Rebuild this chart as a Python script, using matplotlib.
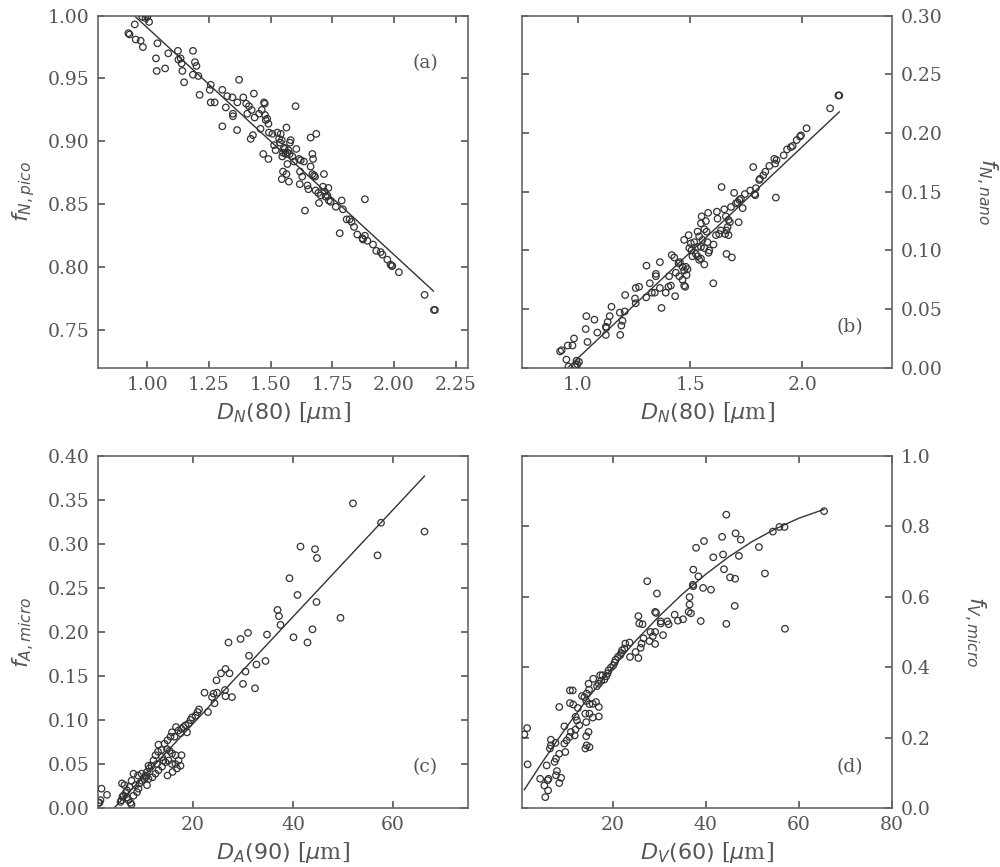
import numpy as np
import matplotlib
matplotlib.use("Agg")
import matplotlib.pyplot as plt
from matplotlib.ticker import MultipleLocator, FormatStrFormatter

plt.rcParams.update({
    "font.family": "DejaVu Serif",
    "mathtext.fontset": "dejavusans",
    "font.size": 13.5,
    "axes.labelsize": 16,
    "text.color": "#555555",
    "axes.labelcolor": "#555555",
    "xtick.color": "#555555",
    "ytick.color": "#555555",
    "axes.edgecolor": "#666666",
    "axes.linewidth": 1.2,
})

# (a) f_N,pico vs D_N(80)
a_x = [0.980, 0.993, 1.000, 1.007, 0.949, 0.923, 0.928, 0.953, 0.973, 0.982, 1.041, 1.035,
       1.038, 1.072, 1.085, 1.124, 1.126, 1.135, 1.139, 1.142, 1.149, 1.185, 1.193, 1.199,
       1.185, 1.207, 1.212, 1.257, 1.253, 1.257, 1.273, 1.304, 1.318, 1.324, 1.345, 1.347,
       1.347, 1.304, 1.364, 1.372, 1.365, 1.389, 1.401, 1.405, 1.412, 1.423, 1.432, 1.435,
       1.419, 1.428, 1.453, 1.459, 1.464, 1.473, 1.476, 1.477, 1.480, 1.486, 1.491, 1.493,
       1.470, 1.491, 1.507, 1.514, 1.520, 1.527, 1.534, 1.538, 1.541, 1.545, 1.547, 1.550,
       1.554, 1.557, 1.561, 1.564, 1.568, 1.572, 1.577, 1.568, 1.564, 1.550, 1.545, 1.574,
       1.578, 1.581, 1.588, 1.595, 1.601, 1.604, 1.615, 1.619, 1.622, 1.628, 1.618, 1.639,
       1.635, 1.649, 1.653, 1.662, 1.662, 1.669, 1.672, 1.669, 1.676, 1.680, 1.685, 1.682,
       1.693, 1.696, 1.703, 1.712, 1.716, 1.720, 1.723, 1.730, 1.734, 1.736, 1.743, 1.764,
       1.780, 1.788, 1.793, 1.808, 1.820, 1.828, 1.838, 1.851, 1.872, 1.874, 1.882, 1.882,
       1.892, 1.915, 1.928, 1.946, 1.953, 1.973, 1.986, 1.991, 1.993, 2.020, 2.124, 2.162,
       2.166]
a_y = [0.999, 0.998, 0.999, 0.995, 0.993, 0.986, 0.985, 0.981, 0.980, 0.975, 0.978, 0.966,
       0.956, 0.958, 0.970, 0.972, 0.965, 0.966, 0.962, 0.956, 0.947, 0.972, 0.963, 0.960,
       0.953, 0.952, 0.937, 0.945, 0.941, 0.931, 0.931, 0.941, 0.927, 0.936, 0.935, 0.922,
       0.920, 0.912, 0.909, 0.949, 0.931, 0.935, 0.930, 0.922, 0.928, 0.925, 0.938, 0.919,
       0.902, 0.905, 0.922, 0.910, 0.925, 0.931, 0.930, 0.921, 0.917, 0.918, 0.914, 0.907,
       0.890, 0.886, 0.906, 0.897, 0.893, 0.907, 0.902, 0.899, 0.906, 0.901, 0.888, 0.891,
       0.895, 0.894, 0.890, 0.911, 0.891, 0.893, 0.890, 0.882, 0.874, 0.876, 0.870, 0.868,
       0.899, 0.901, 0.888, 0.884, 0.928, 0.894, 0.886, 0.876, 0.885, 0.872, 0.866, 0.845,
       0.884, 0.865, 0.862, 0.903, 0.880, 0.890, 0.886, 0.874, 0.873, 0.872, 0.906, 0.861,
       0.859, 0.851, 0.857, 0.864, 0.874, 0.860, 0.856, 0.857, 0.863, 0.853, 0.852, 0.848,
       0.827, 0.853, 0.846, 0.838, 0.838, 0.836, 0.832, 0.826, 0.823, 0.822, 0.854, 0.825,
       0.821, 0.818, 0.813, 0.812, 0.810, 0.806, 0.802, 0.801, 0.801, 0.796, 0.778, 0.766,
       0.766]
a_fit_x = [0.93, 2.16]
a_fit_y = [1.003, 0.781]

# (b) f_N,nano vs D_N(80)
b_x = [2.161, 2.165, 2.124, 2.019, 1.994, 1.990, 1.975, 1.957, 1.949, 1.932, 1.917, 1.885,
       1.879, 1.875, 1.853, 1.835, 1.826, 1.811, 1.808, 1.781, 1.882, 1.793, 1.790, 1.787,
       1.768, 1.744, 1.726, 1.719, 1.711, 1.704, 1.734, 1.696, 1.640, 1.682, 1.652, 1.659,
       1.671, 1.677, 1.667, 1.662, 1.656, 1.671, 1.716, 1.637, 1.629, 1.622, 1.619, 1.615,
       1.580, 1.551, 1.570, 1.548, 1.563, 1.573, 1.533, 1.540, 1.555, 1.577, 1.604, 1.585,
       1.582, 1.563, 1.548, 1.533, 1.518, 1.503, 1.496, 1.506, 1.510, 1.525, 1.533, 1.548,
       1.540, 1.563, 1.662, 1.686, 1.493, 1.473, 1.454, 1.418, 1.429, 1.448, 1.466, 1.481,
       1.488, 1.473, 1.484, 1.466, 1.473, 1.478, 1.451, 1.436, 1.406, 1.414, 1.403, 1.433,
       1.391, 1.365, 1.347, 1.347, 1.305, 1.320, 1.329, 1.342, 1.365, 1.372, 1.304, 1.257,
       1.272, 1.257, 1.254, 1.210, 1.208, 1.186, 1.149, 1.141, 1.132, 1.124, 1.126, 1.124,
       1.086, 1.073, 1.037, 1.034, 1.042, 1.188, 1.193, 1.198, 0.982, 0.975, 0.954, 0.927,
       0.920, 0.948, 0.993, 1.004, 0.997, 0.957, 0.990, 1.603]
b_y = [0.232, 0.232, 0.221, 0.204, 0.198, 0.197, 0.194, 0.189, 0.188, 0.186, 0.181, 0.177,
       0.174, 0.178, 0.172, 0.167, 0.164, 0.161, 0.160, 0.171, 0.145, 0.153, 0.147, 0.148,
       0.151, 0.148, 0.144, 0.143, 0.141, 0.140, 0.136, 0.149, 0.154, 0.137, 0.135, 0.129,
       0.126, 0.124, 0.120, 0.117, 0.114, 0.113, 0.124, 0.117, 0.114, 0.127, 0.133, 0.113,
       0.132, 0.129, 0.125, 0.123, 0.118, 0.116, 0.116, 0.112, 0.109, 0.107, 0.105, 0.100,
       0.098, 0.102, 0.103, 0.103, 0.107, 0.106, 0.102, 0.100, 0.095, 0.097, 0.095, 0.093,
       0.092, 0.088, 0.097, 0.094, 0.113, 0.109, 0.090, 0.096, 0.094, 0.089, 0.086, 0.086,
       0.084, 0.083, 0.079, 0.075, 0.070, 0.069, 0.078, 0.081, 0.078, 0.070, 0.069, 0.061,
       0.064, 0.090, 0.080, 0.078, 0.087, 0.072, 0.064, 0.064, 0.068, 0.051, 0.060, 0.068,
       0.069, 0.055, 0.059, 0.062, 0.048, 0.047, 0.052, 0.044, 0.039, 0.035, 0.034, 0.028,
       0.030, 0.041, 0.044, 0.033, 0.022, 0.028, 0.036, 0.040, 0.025, 0.019, 0.019, 0.015,
       0.014, 0.007, 0.006, 0.005, 0.003, 0.001, 0.001, 0.072]
b_fit_x = [0.92, 2.165]
b_fit_y = [-0.006, 0.218]

# (c) f_A,micro vs D_A(90)
c_x = [52.0, 57.6, 66.3, 56.9, 41.5, 44.4, 44.8, 39.3, 40.9, 44.7, 49.5, 36.9, 37.2, 37.5,
       40.1, 43.9, 42.9, 34.8, 31.0, 29.5, 27.1, 31.2, 30.5, 32.7, 34.5, 32.4, 30.0, 26.5,
       27.3, 25.6, 24.7, 26.4, 24.8, 24.1, 23.8, 22.3, 24.3, 26.5, 27.8, 23.0, 21.2, 20.9,
       20.5, 19.8, 19.5, 19.1, 18.5, 18.1, 17.7, 17.1, 16.6, 17.5, 18.8, 15.8, 16.3, 15.5,
       14.9, 14.3, 13.7, 13.1, 13.0, 12.5, 14.8, 15.3, 15.8, 16.5, 17.1, 16.8, 17.5, 17.7,
       15.9, 14.9, 14.5, 14.1, 13.8, 12.8, 12.1, 11.7, 11.3, 10.8, 10.5, 10.3, 9.8, 9.3,
       8.5, 8.1, 9.0, 9.7, 11.1, 10.8, 10.5, 9.1, 8.8, 8.1, 7.7, 7.3, 6.8, 6.5, 6.1, 5.8,
       6.3, 6.8, 7.1, 7.5, 7.7, 5.9, 5.7, 5.5, 1.1, 1.3, 1.7, 2.8, 1.5, 11.9, 12.5, 13.1,
       13.8, 15.1, 15.8, 16.5, 11.1]
c_y = [0.346, 0.324, 0.314, 0.287, 0.297, 0.294, 0.284, 0.261, 0.242, 0.234, 0.216, 0.225,
       0.218, 0.208, 0.194, 0.203, 0.188, 0.197, 0.199, 0.192, 0.188, 0.173, 0.155, 0.163,
       0.167, 0.136, 0.141, 0.158, 0.153, 0.153, 0.145, 0.134, 0.131, 0.130, 0.126, 0.131,
       0.119, 0.127, 0.126, 0.109, 0.112, 0.109, 0.105, 0.103, 0.100, 0.096, 0.094, 0.092,
       0.090, 0.088, 0.092, 0.085, 0.086, 0.086, 0.081, 0.081, 0.077, 0.073, 0.066, 0.072,
       0.064, 0.060, 0.067, 0.065, 0.062, 0.060, 0.054, 0.045, 0.048, 0.060, 0.041, 0.037,
       0.052, 0.054, 0.058, 0.050, 0.054, 0.048, 0.045, 0.041, 0.037, 0.033, 0.031, 0.028,
       0.026, 0.039, 0.037, 0.039, 0.033, 0.026, 0.035, 0.022, 0.018, 0.014, 0.031, 0.024,
       0.020, 0.017, 0.014, 0.028, 0.026, 0.012, 0.009, 0.006, 0.004, 0.013, 0.009, 0.007,
       0.006, 0.006, 0.022, 0.015, 0.009, 0.035, 0.039, 0.043, 0.047, 0.054, 0.050, 0.050,
       0.048]
c_fit_x = [1.1, 66.3]
c_fit_y = [-0.019, 0.377]

# (d) f_V,micro vs D_V(60)
d_x = [65.4, 44.4, 46.4, 47.5, 43.5, 54.4, 55.8, 56.9, 51.4, 47.1, 43.7, 41.6, 39.6, 37.9,
       37.3, 43.9, 38.4, 45.2, 46.3, 52.7, 37.2, 37.3, 39.4, 41.1, 27.4, 29.5, 36.5, 36.5,
       36.8, 36.3, 46.2, 38.9, 44.4, 57.0, 29.1, 29.3, 33.3, 35.1, 34.0, 31.7, 32.0, 30.3,
       30.3, 25.5, 25.7, 26.4, 30.8, 29.1, 28.1, 28.6, 27.9, 29.1, 26.6, 26.2, 26.0, 24.9,
       25.5, 23.6, 22.7, 23.7, 22.5, 22.0, 21.8, 21.6, 21.1, 20.6, 20.4, 20.1, 19.6, 19.1,
       18.9, 18.6, 17.8, 17.3, 18.2, 17.5, 17.0, 16.6, 15.8, 14.8, 14.9, 14.4, 13.9, 13.4,
       14.3, 15.0, 15.7, 16.4, 17.0, 17.0, 15.7, 15.0, 14.1, 14.3, 12.5, 11.5, 10.8, 12.0,
       12.3, 12.8, 14.8, 14.3, 14.4, 15.0, 14.1, 10.8, 11.4, 8.5, 12.0, 11.0, 11.8, 10.7,
       9.6, 10.1, 9.6, 9.8, 8.5, 7.7, 6.7, 6.7, 6.5, 7.8, 7.5, 5.8, 8.0, 7.8, 8.9, 8.5,
       6.2, 6.0, 4.4, 5.3, 6.1, 5.5, 1.6, 1.0, 1.7]
d_y = [0.843, 0.833, 0.780, 0.762, 0.770, 0.785, 0.798, 0.798, 0.741, 0.716, 0.720, 0.712,
       0.758, 0.739, 0.677, 0.678, 0.658, 0.655, 0.651, 0.666, 0.634, 0.630, 0.625, 0.620,
       0.644, 0.609, 0.599, 0.578, 0.553, 0.557, 0.574, 0.531, 0.523, 0.509, 0.557, 0.554,
       0.549, 0.536, 0.532, 0.530, 0.522, 0.530, 0.524, 0.545, 0.524, 0.522, 0.491, 0.500,
       0.500, 0.488, 0.474, 0.466, 0.482, 0.467, 0.455, 0.443, 0.426, 0.470, 0.467, 0.429,
       0.453, 0.448, 0.440, 0.434, 0.429, 0.421, 0.413, 0.405, 0.399, 0.391, 0.382, 0.374,
       0.377, 0.377, 0.365, 0.361, 0.353, 0.346, 0.367, 0.353, 0.336, 0.325, 0.315, 0.318,
       0.304, 0.295, 0.296, 0.301, 0.287, 0.260, 0.257, 0.268, 0.268, 0.244, 0.284, 0.294,
       0.298, 0.259, 0.249, 0.235, 0.216, 0.204, 0.178, 0.173, 0.169, 0.334, 0.334, 0.287,
       0.223, 0.216, 0.206, 0.202, 0.232, 0.192, 0.183, 0.159, 0.154, 0.185, 0.194, 0.178,
       0.169, 0.140, 0.131, 0.121, 0.105, 0.093, 0.086, 0.071, 0.083, 0.079, 0.083, 0.064,
       0.050, 0.031, 0.227, 0.209, 0.124]
d_fit_x = [1.0, 5, 10, 15, 20, 25, 30, 35, 40, 45, 50, 55, 60, 65.4]
d_fit_y = [0.052, 0.133, 0.229, 0.318, 0.400, 0.476, 0.545, 0.608, 0.664, 0.714, 0.757,
           0.793, 0.823, 0.848]

PANELS = [
    dict(x=a_x, y=a_y, fx=a_fit_x, fy=a_fit_y, xlim=(0.8, 2.3), ylim=(0.72, 1.0),
         xstep=0.25, ystep=0.05, yfmt="%.2f", xfmt="%.2f", tag="(a)", tagy=0.866,
         xlabel=r"$D_N(80)$ [$\mu$m]", ylabel=r"$f_{N,pico}$", side="left"),
    dict(x=b_x, y=b_y, fx=b_fit_x, fy=b_fit_y, xlim=(0.75, 2.4), ylim=(0.0, 0.3),
         xstep=0.5, ystep=0.05, yfmt="%.2f", xfmt="%.1f", tag="(b)", tagy=0.116,
         xlabel=r"$D_N(80)$ [$\mu$m]", ylabel=r"$f_{N,nano}$", side="right"),
    dict(x=c_x, y=c_y, fx=c_fit_x, fy=c_fit_y, xlim=(1, 75), ylim=(0.0, 0.4),
         xstep=20, ystep=0.05, yfmt="%.2f", xfmt="%d", tag="(c)", tagy=0.116,
         xlabel=r"$D_A(90)$ [$\mu$m]", ylabel=r"$f_{A,micro}$", side="left"),
    dict(x=d_x, y=d_y, fx=d_fit_x, fy=d_fit_y, xlim=(0.5, 80), ylim=(0.0, 1.0),
         xstep=20, ystep=0.2, yfmt="%.1f", xfmt="%d", tag="(d)", tagy=0.116,
         xlabel=r"$D_V(60)$ [$\mu$m]", ylabel=r"$f_{V,micro}$", side="right"),
]

fig, axes = plt.subplots(2, 2, figsize=(10, 8.67), dpi=100)
fig.subplots_adjust(left=0.098, right=0.892, top=0.982, bottom=0.068,
                    wspace=0.146, hspace=0.25)

for ax, p in zip(axes.flat, PANELS):
    ax.plot(p["fx"], p["fy"], color="#333333", lw=1.0, zorder=2)
    ax.scatter(p["x"], p["y"], s=22, facecolors="none", edgecolors="#333333",
               linewidths=0.9, zorder=3, clip_on=True)
    ax.set_xlim(*p["xlim"])
    ax.set_ylim(*p["ylim"])
    ax.xaxis.set_major_locator(MultipleLocator(p["xstep"]))
    ax.yaxis.set_major_locator(MultipleLocator(p["ystep"]))
    ax.xaxis.set_major_formatter(FormatStrFormatter(p["xfmt"]))
    ax.yaxis.set_major_formatter(FormatStrFormatter(p["yfmt"]))
    right = p["side"] == "right"
    ax.tick_params(which="both", direction="in", top=True, bottom=True, left=True,
                   right=True, length=5, width=1.2, color="#555555",
                   labelleft=not right, labelright=right, pad=6)
    ax.set_xlabel(p["xlabel"], labelpad=4)
    if right:
        ax.yaxis.set_label_position("right")
        ax.set_ylabel(p["ylabel"], rotation=-90, va="bottom", labelpad=22)
    else:
        ax.set_ylabel(p["ylabel"], labelpad=8)
    ax.text(0.885, p["tagy"], p["tag"], transform=ax.transAxes, ha="center",
            va="center", fontsize=13.5)

fig.savefig("out.png", dpi=100)
